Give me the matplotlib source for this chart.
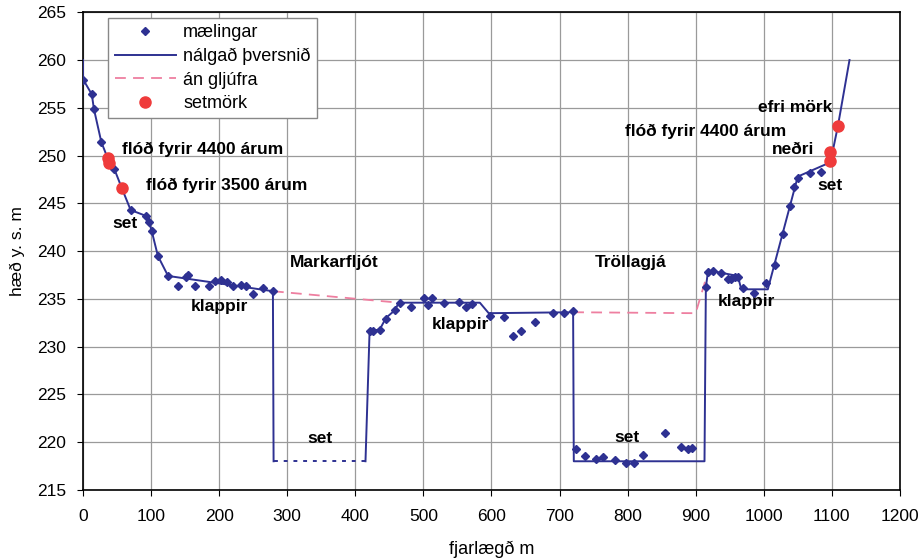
import numpy as np
import matplotlib
matplotlib.use("Agg")
import matplotlib.pyplot as plt

plt.rcParams['font.family'] = ['Liberation Sans', 'DejaVu Sans']

# maelingar (measured points)
meas_x = [0, 13, 16, 27, 46, 70, 92, 97, 101, 110, 125, 139, 152, 155, 164, 185, 194, 203,
          211, 220, 232, 240, 250, 264, 279,
          421, 426, 436, 445, 458, 465, 482, 501, 507, 513, 530, 552, 562, 571, 598, 618,
          632, 644, 664, 690, 707, 720,
          724, 737, 753, 764, 782, 797, 809, 823, 855, 879, 889, 894,
          915, 918, 925, 937, 947, 952, 958, 962, 969, 986, 1003, 1017, 1028, 1038, 1045,
          1051, 1068, 1084]
meas_y = [257.9, 256.4, 254.9, 251.4, 248.6, 244.3, 243.7, 243.0, 242.1, 239.5, 237.4, 236.3,
          237.3, 237.5, 236.3, 236.3, 236.9, 237.0, 236.8, 236.3, 236.4, 236.3, 235.5, 236.1,
          235.8,
          231.6, 231.6, 231.7, 232.9, 233.8, 234.6, 234.1, 235.1, 234.4, 235.05, 234.6, 234.7,
          234.1, 234.5, 233.2, 233.1, 231.1, 231.6, 232.6, 233.5, 233.5, 233.7,
          219.3, 218.6, 218.2, 218.4, 218.1, 217.8, 217.8, 218.7, 221.0, 219.5, 219.3, 219.4,
          236.2, 237.8, 237.9, 237.7, 237.1, 237.1, 237.3, 237.3, 236.1, 235.6, 236.7, 238.5,
          241.8, 244.7, 246.7, 247.7, 248.2, 248.3]

# nalgad thversnid (approximated cross section)
prof_x = [0, 0, 13, 16, 27, 37, 46, 57, 70, 92, 97, 101, 110, 125, 279, 280, np.nan,
          415, 421, 436, 445, 458, 464, 583, 596, 720, 721, 913, 915, 918, 925, 962, 967,
          1006, 1050, 1098, 1109, 1126]
prof_y = [260, 258, 256.4, 254.9, 251.4, 249.6, 248.6, 246.6, 244.3, 243.7, 243.0, 242.1,
          239.5, 237.4, 235.8, 218, np.nan,
          218, 231.6, 231.8, 233.0, 233.8, 234.6, 234.6, 233.5, 233.6, 218, 218, 236.2,
          237.8, 237.9, 237.4, 236.0, 236.0, 247.8, 249.3, 253.1, 260]

# dotted part under sediment
dot_x = [280, 415]
dot_y = [218, 218]

# an gljufra (without canyon)
flat_x = [279, 464, np.nan, 720, 900, 918]
flat_y = [235.8, 234.6, np.nan, 233.6, 233.5, 237.8]

# setmork (sediment limits)
sed_x = [37, 38, 57, 1098, 1098, 1109]
sed_y = [249.7, 249.2, 246.6, 249.4, 250.4, 253.1]

navy = '#2e3192'
fig = plt.figure(figsize=(9.22, 5.58), dpi=100)
ax = fig.add_axes([0.090, 0.122, 0.886, 0.856])

ax.plot(flat_x, flat_y, color='#ee7fa0', lw=1.3, ls=(0, (6, 4)), label='án gljúfra', zorder=2)
ax.plot(prof_x, prof_y, color=navy, lw=1.4, label='nálgað þversnið', zorder=3)
ax.plot(dot_x, dot_y, color=navy, lw=1.4, ls=(0, (2, 3)), zorder=3)
ax.plot(meas_x, meas_y, 'D', color=navy, ms=4.5, ls='none', label='mælingar', zorder=4)
ax.plot(sed_x, sed_y, 'o', color='#ef3b3b', ms=8, ls='none', label='setmörk', zorder=5)

ax.set_xlim(0, 1200)
ax.set_ylim(215, 265)
ax.set_xticks(np.arange(0, 1201, 100))
ax.set_yticks(np.arange(215, 266, 5))
ax.grid(True, color='#9a9a9a', lw=0.9)
ax.set_axisbelow(True)
ax.tick_params(labelsize=12.5, length=4)
ax.tick_params(axis='x', pad=10)
ax.tick_params(axis='y', pad=8)
for s in ax.spines.values():
    s.set_linewidth(1.2)
ax.set_xlabel('fjarlægð m', fontsize=13, labelpad=12)
ax.set_ylabel('hæð y. s. m', fontsize=12.5, labelpad=9)

h, l = ax.get_legend_handles_labels()
order = [2, 1, 0, 3]
leg = ax.legend([h[i] for i in order], [l[i] for i in order], loc='upper left',
                bbox_to_anchor=(0.031, 0.988), fontsize=13, fancybox=False,
                edgecolor='#888888', framealpha=1, handlelength=3.4, borderpad=0.35,
                labelspacing=0.36, handletextpad=0.4, borderaxespad=0)

bold = dict(fontsize=12.5, fontweight='bold', va='center')
ax.text(57, 250.6, 'flóð fyrir 4400 árum', **bold)
ax.text(92, 246.9, 'flóð fyrir 3500 árum', **bold)
ax.text(43, 242.9, 'set', **bold)
ax.text(159, 234.2, 'klappir', **bold)
ax.text(304, 238.8, 'Markarfljót', **bold)
ax.text(329, 220.4, 'set', **bold)
ax.text(512, 232.3, 'klappir', **bold)
ax.text(752, 238.8, 'Tröllagjá', **bold)
ax.text(781, 220.5, 'set', **bold)
ax.text(932, 234.7, 'klappir', **bold)
ax.text(1079, 246.9, 'set', **bold)
ax.text(1012, 250.6, 'neðri', **bold)
ax.text(796, 252.5, 'flóð fyrir 4400 árum', **bold)
ax.text(991, 255.0, 'efri mörk', **bold)

fig.savefig('out.png', dpi=100)
